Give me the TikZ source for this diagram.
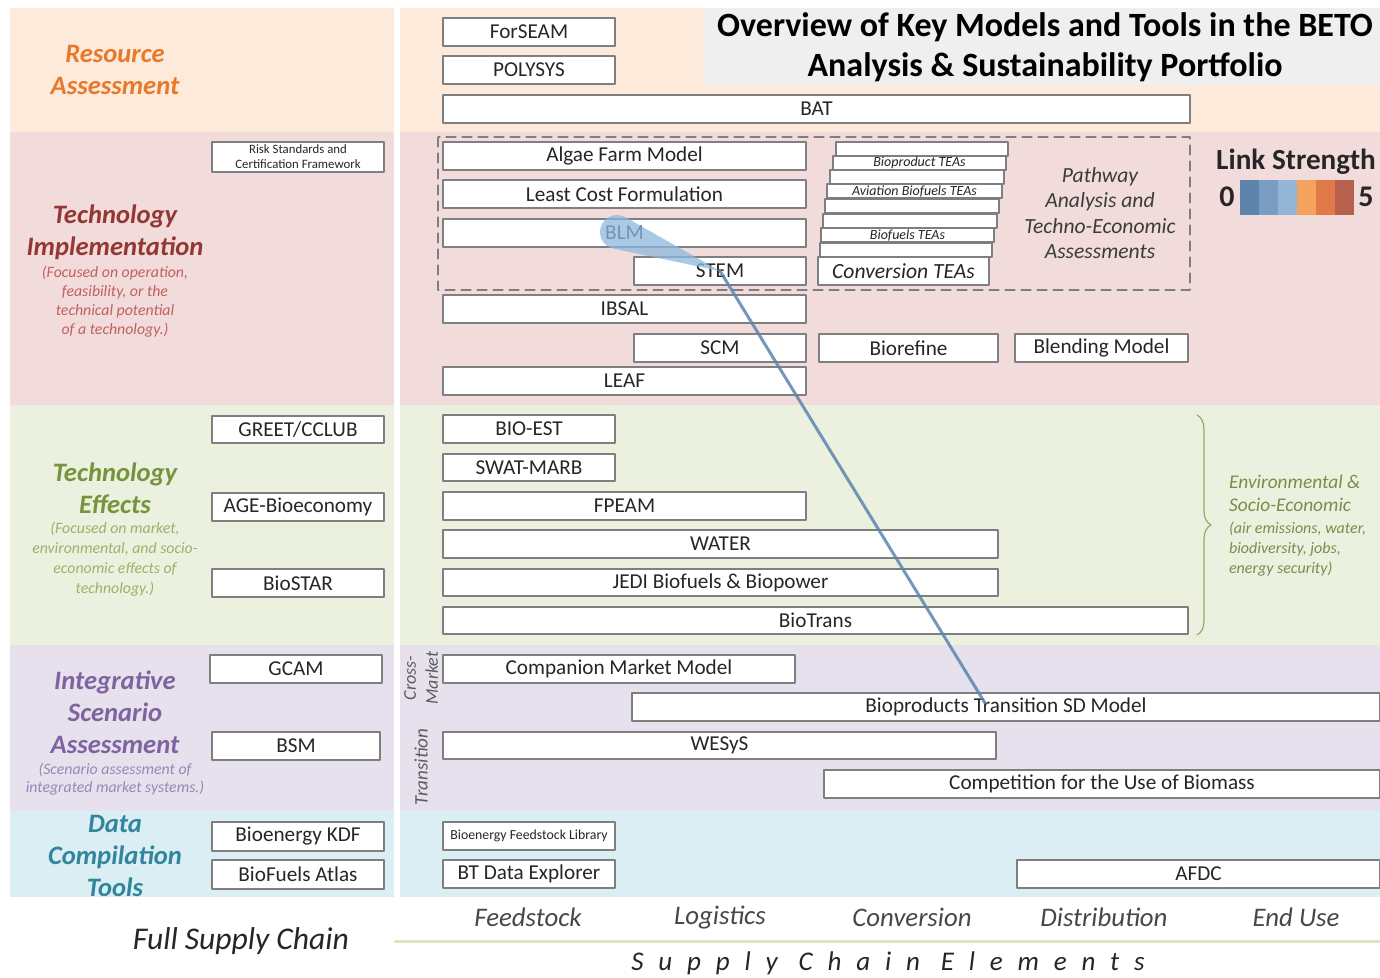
\documentclass[tikz,border=0pt]{standalone}
\usepackage{fontspec}
\setmainfont{Carlito}
\usetikzlibrary{calc,decorations.pathreplacing}
\definecolor{bandres}{HTML}{FDEADA}
\definecolor{bandimpl}{HTML}{F2DCDB}
\definecolor{bandeff}{HTML}{EBF1DE}
\definecolor{bandint}{HTML}{E6E1EC}
\definecolor{banddata}{HTML}{DAEEF3}
\definecolor{titlegray}{HTML}{EFEFEF}
\definecolor{boxline}{HTML}{7F7F7F}
\definecolor{boxtext}{HTML}{262626}
\definecolor{resorange}{HTML}{E8792B}
\definecolor{implred}{HTML}{943634}
\definecolor{implsub}{HTML}{C0605E}
\definecolor{effgreen}{HTML}{77933C}
\definecolor{effsub}{HTML}{9BB26A}
\definecolor{intpurple}{HTML}{7F63A1}
\definecolor{intsub}{HTML}{9A86B8}
\definecolor{datateal}{HTML}{31859C}
\definecolor{linkblue}{HTML}{5B86B0}
\definecolor{blobblue}{HTML}{8DB8E0}
\definecolor{ls1}{HTML}{5E83AC}
\definecolor{ls2}{HTML}{7A9DC3}
\definecolor{ls3}{HTML}{93B6D6}
\definecolor{ls4}{HTML}{F4A25C}
\definecolor{ls5}{HTML}{E07A4B}
\definecolor{ls6}{HTML}{B8604E}
\tikzset{
  tool/.style={draw=boxline,fill=white,line width=0.6pt,inner sep=0pt,
    font=\fontsize{10.6}{12}\selectfont,text=boxtext},
  tinytool/.style={tool,font=\fontsize{6.4}{7.5}\selectfont,align=center},
  tea/.style={tool,font=\fontsize{7}{8}\selectfont\itshape},
  heading/.style={font=\fontsize{13.3}{16}\selectfont\bfseries\itshape,align=center},
  aside/.style={font=\fontsize{7.9}{9.5}\selectfont\itshape,align=center},
  stage/.style={font=\fontsize{13.4}{15}\selectfont\itshape,text=boxtext!85},
  link/.style={draw=linkblue,line width=1.5pt,opacity=.85},
  linkblob/.style={fill=blobblue,opacity=.75},
}
% box from its corners (x1,y1) to (x2,y2)
\newcommand\toolbox[6][]{\node[tool,#1,minimum width={(#4-#2)*0.5pt},minimum height={(#5-#3)*0.5pt}] (#6) at ({(#2+#4)/2},{(#3+#5)/2})}
\begin{document}
\begin{tikzpicture}[x=0.5pt,y=-0.5pt,line join=round,line cap=round]
  \useasboundingbox[fill=white] (0,0) rectangle (1380,978);
  %Bands
  \fill[bandres] (10,8) rectangle (1380,132);
  \fill[bandimpl] (10,132) rectangle (1380,405);
  \fill[bandeff] (10,405) rectangle (1380,645);
  \fill[bandint] (10,645) rectangle (1380,811);
  \fill[banddata] (10,811) rectangle (1380,897);
  \fill[white] (394,8) rectangle (400,897);
  \fill[titlegray] (703,8) rectangle (1380,85);
  \node[font=\fontsize{17}{20}\selectfont\bfseries,align=center,text=black] (title) at (1045,47)
    {Overview of Key Models and Tools in the BETO\\Analysis \& Sustainability Portfolio};
  %Category labels
  \node[heading,text=resorange] (resource) at (115,70) {Resource\\Assessment};
  \node[heading,text=implred] (impl) at (115,232) {Technology\\Implementation};
  \node[aside,text=implsub] (implnote) at (115,302) {(Focused on operation,\\feasibility, or the\\technical potential\\of a technology.)};
  \node[heading,text=effgreen] (effects) at (115,488) {Technology\\Effects};
  \node[aside,text=effsub,font=\fontsize{7.9}{10}\selectfont\itshape] (effnote) at (115,559) {(Focused on market,\\environmental, and socio-\\economic effects of\\technology.)};
  \node[heading,text=intpurple] (integr) at (115,712) {Integrative\\Scenario\\Assessment};
  \node[aside,text=intsub,font=\fontsize{7.9}{9}\selectfont\itshape] (intnote) at (115,779) {(Scenario assessment of\\integrated market systems.)};
  \node[heading,text=datateal] (data) at (115,856) {Data\\Compilation\\Tools};
  %Resource assessment
  \toolbox{443}{18}{615}{46}{forseam} {ForSEAM};
  \toolbox{443}{56}{615}{84}{polysys} {POLYSYS};
  \toolbox{443}{95}{1190}{123}{bat} {BAT};
  %Technology implementation
  \draw[boxline,line width=0.6pt,dash pattern=on 5pt off 3pt] (438,137) rectangle (1190,290);
  \toolbox[tinytool]{212}{142}{384}{172}{risk} {Risk Standards and\\Certification Framework};
  \toolbox{443}{142}{806}{170}{algae} {Algae Farm Model};
  \toolbox{443}{180}{806}{208}{lcf} {Least Cost Formulation};
  \toolbox{443}{219}{806}{247}{blm} {BLM};
  \toolbox{634}{257}{806}{285}{stem} {STEM};
  \toolbox[tea]{836}{142}{1008}{156}{tea1} {};
  \toolbox[tea]{833}{156}{1006}{170}{tea2} {Bioproduct TEAs};
  \toolbox[tea]{830}{170}{1004}{184}{tea3} {};
  \toolbox[tea]{827}{184}{1002}{198}{tea4} {Aviation Biofuels TEAs};
  \toolbox[tea]{825}{199}{999}{213}{tea5} {};
  \toolbox[tea]{823}{214}{997}{228}{tea6} {};
  \toolbox[tea]{821}{228}{994}{242}{tea7} {Biofuels TEAs};
  \toolbox[tea]{820}{243}{992}{257}{tea8} {};
  \toolbox[font=\fontsize{10.8}{12}\selectfont\itshape]{818}{257}{989}{285}{convtea} {Conversion TEAs};
  \node[font=\fontsize{10.8}{12.8}\selectfont\itshape,align=center,text=boxtext!90] (pathway) at (1100,213)
    {Pathway\\Analysis and\\Techno-Economic\\Assessments};
  \toolbox{443}{295}{806}{323}{ibsal} {IBSAL};
  \toolbox{634}{334}{806}{362}{scm} {SCM};
  \toolbox{819}{334}{998}{362}{biorefine} {Biorefine};
  \toolbox{1015}{334}{1188}{362}{blending} {Blending Model};
  \toolbox{443}{367}{806}{395}{leaf} {LEAF};
  %Link strength
  \node[font=\fontsize{14.6}{16}\selectfont\bfseries,text=boxtext] (lstitle) at (1296,162) {Link Strength};
  \fill[ls1] (1240,180) rectangle (1259,215);
  \fill[ls2] (1259,180) rectangle (1278,215);
  \fill[ls3] (1278,180) rectangle (1297,215);
  \fill[ls4] (1297,180) rectangle (1316,215);
  \fill[ls5] (1316,180) rectangle (1335,215);
  \fill[ls6] (1335,180) rectangle (1354,215);
  \node[font=\fontsize{15}{17}\selectfont\bfseries,text=boxtext] (lszero) at (1227,197) {0};
  \node[font=\fontsize{15}{17}\selectfont\bfseries,text=boxtext] (lsfive) at (1366,197) {5};
  %Technology effects
  \toolbox{212}{416}{384}{443}{greet} {GREET/CCLUB};
  \toolbox{212}{493}{384}{521}{age} {AGE-Bioeconomy};
  \toolbox{212}{569}{384}{597}{biostar} {BioSTAR};
  \toolbox{443}{415}{615}{443}{bioest} {BIO-EST};
  \toolbox{443}{454}{615}{481}{swat} {SWAT-MARB};
  \toolbox{443}{492}{806}{520}{fpeam} {FPEAM};
  \toolbox{443}{530}{998}{558}{water} {WATER};
  \toolbox{443}{569}{998}{596}{jedi} {JEDI Biofuels \& Biopower};
  \toolbox{443}{607}{1188}{634}{biotrans} {BioTrans};
  \draw[effsub!80!gray,line width=0.6pt,decorate,decoration={brace,amplitude=7pt}] (1197,415) -- (1197,635);
  \node[anchor=south west,font=\fontsize{9.7}{11.5}\selectfont\itshape,align=left,text=effgreen!75!gray] (envhead) at (1222,519)
    {Environmental \&\\Socio-Economic};
  \node[anchor=north west,font=\fontsize{8}{10}\selectfont\itshape,align=left,text=effgreen!75!gray] (envnote) at (1222,515)
    {(air emissions, water,\\biodiversity, jobs,\\energy security)};
  %Integrative scenario assessment
  \toolbox{210}{655}{382}{683}{gcam} {GCAM};
  \toolbox{212}{732}{380}{760}{bsm} {BSM};
  \node[rotate=90,font=\fontsize{9}{11}\selectfont\itshape,align=center,text=boxtext!75] (crossmkt) at (421,678) {Cross-\\Market};
  \node[rotate=90,font=\fontsize{9.5}{11}\selectfont\itshape,text=boxtext!75] (transition) at (421,767) {Transition};
  \toolbox{443}{655}{795}{683}{companion} {Companion Market Model};
  \toolbox{632}{693}{1380}{721}{bsd} {Bioproducts Transition SD Model};
  \toolbox{443}{732}{996}{759}{wesys} {WESyS};
  \toolbox{824}{770}{1380}{798}{competition} {Competition for the Use of Biomass};
  %Data compilation tools
  \toolbox{212}{822}{384}{851}{kdf} {Bioenergy KDF};
  \toolbox{212}{860}{384}{889}{atlas} {BioFuels Atlas};
  \toolbox[tinytool,font=\fontsize{6.9}{8}\selectfont]{443}{822}{615}{850}{bfl} {Bioenergy Feedstock Library};
  \toolbox{443}{860}{615}{888}{btde} {BT Data Explorer};
  \toolbox{1017}{860}{1380}{888}{afdc} {AFDC};
  %Supply chain
  \node[font=\fontsize{15.8}{18}\selectfont\itshape,text=boxtext] (fullsc) at (241,941) {Full Supply Chain};
  \node[stage] (feedstock) at (528,917) {Feedstock};
  \node[stage] (logistics) at (720,918) {Logistics};
  \node[stage] (conversion) at (912,917) {Conversion};
  \node[stage] (distribution) at (1104,917) {Distribution};
  \node[stage] (enduse) at (1296,917) {End Use};
  \draw[gray!45!olive!25,line width=1.5pt] (395,941) -- (1380,941);
  \node[font=\fontsize{13.5}{15}\selectfont\itshape\addfontfeature{LetterSpace=55},text=boxtext] (scelements) at (888,963) {Supply Chain Elements};
  %Link
  \coordinate (blob) at (617,232);
  \coordinate (bsdlink) at (985,703);
  \fill[linkblob] (stem.center) -- ($(blob)+(-3.6,16.6)$) arc[start angle=102.3,end angle=300.1,radius=17] -- cycle;
  \draw[link] (stem.center) -- (bsdlink);
\end{tikzpicture}
\end{document}
